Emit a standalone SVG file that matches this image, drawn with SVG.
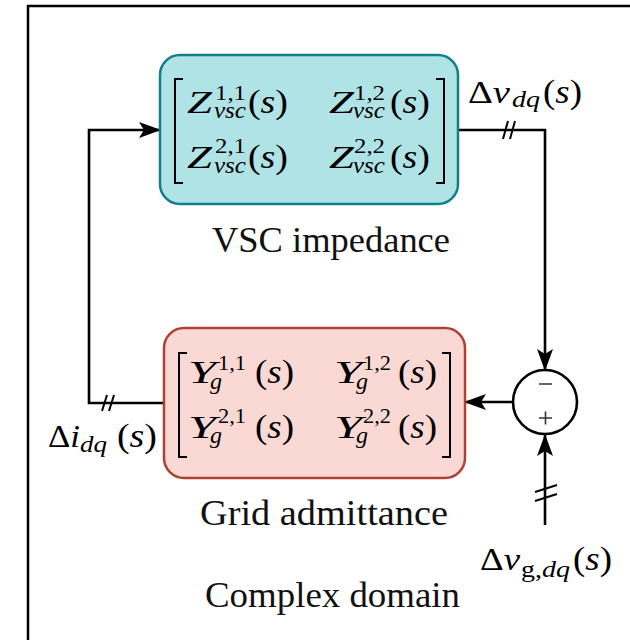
<svg xmlns="http://www.w3.org/2000/svg" width="630" height="640" viewBox="0 0 630 640">
<defs>
<marker id="arr" viewBox="0 0 22 18" refX="21" refY="9" markerWidth="22" markerHeight="18" markerUnits="userSpaceOnUse" orient="auto">
<path d="M0,1 L22,9 L0,17 L5,9 z" fill="#000"/>
</marker>
</defs>
<rect x="28" y="6" width="620" height="650" fill="#fff" stroke="#000" stroke-width="2.5"/>

<g id="connectors" fill="none" stroke="#000">
<path stroke-width="2.6" d="M164,403 H89 V130 H160" marker-end="url(#arr)"/>
<path stroke-width="2.6" d="M458,130 H545 V370" marker-end="url(#arr)"/>
<path stroke-width="2.6" d="M513,402 H465" marker-end="url(#arr)"/>
<path stroke-width="2.6" d="M545,525 V435" marker-end="url(#arr)"/>
<path stroke-width="2" d="M503,139 L508,121 M510,139 L515,121"/>
<path stroke-width="2" d="M102,411 L107,395 M109,411 L114,395"/>
<path stroke-width="2" d="M535,492 L557,485 M535,501 L557,494"/>
</g>

<g id="vsc" fill="#000">
<rect x="160" y="55" width="298" height="149" rx="20" ry="20" fill="#b0e3e6" stroke="#0e8088" stroke-width="2.5"/>
<path fill="none" stroke="#000" stroke-width="2" d="M183,79 H175 V183 H183 M436,79 H444 V183 H436"/>
<text font-family="Times New Roman" font-style="italic" x="187" y="113" font-size="31" textLength="25" lengthAdjust="spacingAndGlyphs">Z</text>
<text font-family="Times New Roman" x="215" y="100" font-size="21" textLength="31" lengthAdjust="spacingAndGlyphs">1,1</text>
<text font-family="Times New Roman" font-style="italic" x="214" y="118" font-size="23" textLength="32" lengthAdjust="spacingAndGlyphs">vsc</text>
<text font-family="Times New Roman" x="248" y="113" font-size="33" textLength="40" lengthAdjust="spacingAndGlyphs">(<tspan font-style="italic">s</tspan>)</text>
<text font-family="Times New Roman" font-style="italic" x="329" y="113" font-size="31" textLength="25" lengthAdjust="spacingAndGlyphs">Z</text>
<text font-family="Times New Roman" x="354" y="100" font-size="21" textLength="31" lengthAdjust="spacingAndGlyphs">1,2</text>
<text font-family="Times New Roman" font-style="italic" x="353" y="118" font-size="23" textLength="32" lengthAdjust="spacingAndGlyphs">vsc</text>
<text font-family="Times New Roman" x="390" y="113" font-size="33" textLength="40" lengthAdjust="spacingAndGlyphs">(<tspan font-style="italic">s</tspan>)</text>
<text font-family="Times New Roman" font-style="italic" x="187" y="168" font-size="31" textLength="25" lengthAdjust="spacingAndGlyphs">Z</text>
<text font-family="Times New Roman" x="215" y="153" font-size="21" textLength="31" lengthAdjust="spacingAndGlyphs">2,1</text>
<text font-family="Times New Roman" font-style="italic" x="214" y="173" font-size="23" textLength="32" lengthAdjust="spacingAndGlyphs">vsc</text>
<text font-family="Times New Roman" x="248" y="168" font-size="33" textLength="40" lengthAdjust="spacingAndGlyphs">(<tspan font-style="italic">s</tspan>)</text>
<text font-family="Times New Roman" font-style="italic" x="329" y="168" font-size="31" textLength="25" lengthAdjust="spacingAndGlyphs">Z</text>
<text font-family="Times New Roman" x="354" y="153" font-size="21" textLength="31" lengthAdjust="spacingAndGlyphs">2,2</text>
<text font-family="Times New Roman" font-style="italic" x="353" y="173" font-size="23" textLength="32" lengthAdjust="spacingAndGlyphs">vsc</text>
<text font-family="Times New Roman" x="390" y="168" font-size="33" textLength="40" lengthAdjust="spacingAndGlyphs">(<tspan font-style="italic">s</tspan>)</text>
<text font-family="Times New Roman" fill="#111" font-size="35" x="212" y="252" textLength="238" lengthAdjust="spacingAndGlyphs">VSC impedance</text>
</g>

<g id="grid" fill="#000">
<rect x="164" y="328" width="301" height="150" rx="20" ry="20" fill="#fad9d5" stroke="#ae4132" stroke-width="2.5"/>
<path fill="none" stroke="#000" stroke-width="2" d="M187,353 H179 V457 H187 M442,353 H450 V457 H442"/>
<text font-family="Times New Roman" font-style="italic" x="188" y="383" font-size="31" textLength="28" lengthAdjust="spacingAndGlyphs">Y</text>
<text font-family="Times New Roman" x="218" y="370" font-size="21" textLength="28" lengthAdjust="spacingAndGlyphs">1,1</text>
<text font-family="Times New Roman" font-style="italic" x="210" y="389" font-size="23" textLength="12" lengthAdjust="spacingAndGlyphs">g</text>
<text font-family="Times New Roman" x="255" y="383" font-size="33" textLength="39" lengthAdjust="spacingAndGlyphs">(<tspan font-style="italic">s</tspan>)</text>
<text font-family="Times New Roman" font-style="italic" x="334" y="383" font-size="31" textLength="28" lengthAdjust="spacingAndGlyphs">Y</text>
<text font-family="Times New Roman" x="363" y="370" font-size="21" textLength="28" lengthAdjust="spacingAndGlyphs">1,2</text>
<text font-family="Times New Roman" font-style="italic" x="356" y="389" font-size="23" textLength="12" lengthAdjust="spacingAndGlyphs">g</text>
<text font-family="Times New Roman" x="398" y="383" font-size="33" textLength="39" lengthAdjust="spacingAndGlyphs">(<tspan font-style="italic">s</tspan>)</text>
<text font-family="Times New Roman" font-style="italic" x="188" y="438" font-size="31" textLength="28" lengthAdjust="spacingAndGlyphs">Y</text>
<text font-family="Times New Roman" x="218" y="423" font-size="21" textLength="28" lengthAdjust="spacingAndGlyphs">2,1</text>
<text font-family="Times New Roman" font-style="italic" x="210" y="443" font-size="23" textLength="12" lengthAdjust="spacingAndGlyphs">g</text>
<text font-family="Times New Roman" x="255" y="438" font-size="33" textLength="39" lengthAdjust="spacingAndGlyphs">(<tspan font-style="italic">s</tspan>)</text>
<text font-family="Times New Roman" font-style="italic" x="334" y="438" font-size="31" textLength="28" lengthAdjust="spacingAndGlyphs">Y</text>
<text font-family="Times New Roman" x="363" y="423" font-size="21" textLength="28" lengthAdjust="spacingAndGlyphs">2,2</text>
<text font-family="Times New Roman" font-style="italic" x="356" y="443" font-size="23" textLength="12" lengthAdjust="spacingAndGlyphs">g</text>
<text font-family="Times New Roman" x="398" y="438" font-size="33" textLength="39" lengthAdjust="spacingAndGlyphs">(<tspan font-style="italic">s</tspan>)</text>
<text font-family="Times New Roman" fill="#111" font-size="35" x="200" y="525" textLength="248" lengthAdjust="spacingAndGlyphs">Grid admittance</text>
</g>

<g id="sum">
<circle cx="545" cy="402" r="32" fill="#fff" stroke="#000" stroke-width="2.6"/>
<path d="M539,384 H552 M539,418 H552 M545.5,411.5 V424.5" stroke="#333" stroke-width="1.6" fill="none"/>
</g>

<g id="labels" fill="#000">
<text font-family="Times New Roman" x="468" y="103" font-size="31" textLength="42" lengthAdjust="spacingAndGlyphs">Δ<tspan font-style="italic">v</tspan></text>
<text font-family="Times New Roman" font-style="italic" x="512" y="107" font-size="23" textLength="28" lengthAdjust="spacingAndGlyphs">dq</text>
<text font-family="Times New Roman" x="543" y="103" font-size="33" textLength="39" lengthAdjust="spacingAndGlyphs">(<tspan font-style="italic">s</tspan>)</text>
<text font-family="Times New Roman" x="48" y="447" font-size="31" textLength="32" lengthAdjust="spacingAndGlyphs">Δ<tspan font-style="italic">i</tspan></text>
<text font-family="Times New Roman" font-style="italic" x="80" y="452" font-size="23" textLength="27" lengthAdjust="spacingAndGlyphs">dq</text>
<text font-family="Times New Roman" x="117" y="447" font-size="33" textLength="40" lengthAdjust="spacingAndGlyphs">(<tspan font-style="italic">s</tspan>)</text>
<text font-family="Times New Roman" x="480" y="570" font-size="31" textLength="40" lengthAdjust="spacingAndGlyphs">Δ<tspan font-style="italic">v</tspan></text>
<text font-family="Times New Roman" x="521" y="577" font-size="23" textLength="49" lengthAdjust="spacingAndGlyphs">g,<tspan font-style="italic">dq</tspan></text>
<text font-family="Times New Roman" x="573" y="570" font-size="33" textLength="39" lengthAdjust="spacingAndGlyphs">(<tspan font-style="italic">s</tspan>)</text>
<text font-family="Times New Roman" fill="#111" font-size="35" x="205" y="607" textLength="255" lengthAdjust="spacingAndGlyphs">Complex domain</text>
</g>
</svg>
